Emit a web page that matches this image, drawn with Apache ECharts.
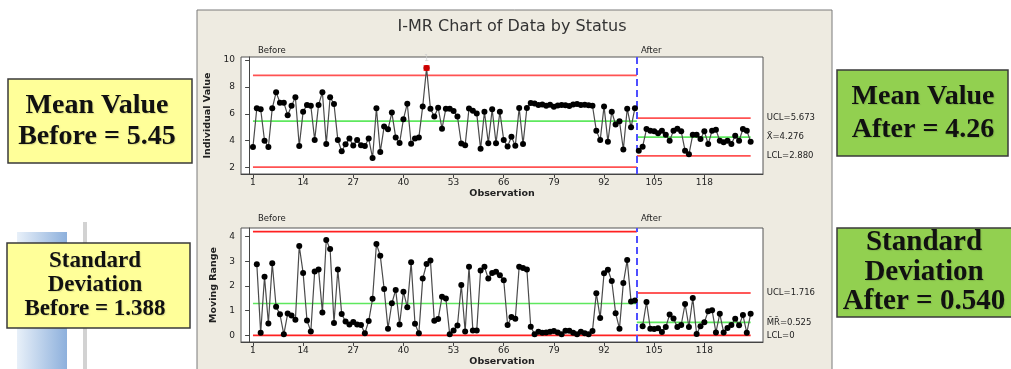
<!DOCTYPE html>
<html><head><meta charset="utf-8">
<script src="https://cdn.jsdelivr.net/npm/echarts@6/dist/echarts.min.js"></script>
<style>html,body{margin:0;padding:0;background:#fff}#c{width:1011px;height:369px}</style>
</head><body><div id="c"></div>
<script>
// ---------- DATA ----------
const iBefore = [3.54,6.41,6.34,4.0,3.54,6.41,7.6,6.83,6.83,5.9,
  6.6,7.23,3.61,6.16,6.66,6.6,4.06,6.66,7.6,3.76,
  7.23,6.73,4.06,3.22,3.74,4.16,3.64,4.06,3.66,3.61,
  4.16,2.72,6.41,3.17,5.05,4.85,6.09,4.25,3.83,5.6,
  6.75,3.78,4.17,4.25,6.55,9.4,6.38,5.8,6.45,4.9,
  6.38,6.38,6.2,5.8,3.8,3.67,6.4,6.23,6.03,3.4,
  6.15,3.82,6.33,3.82,6.15,4.05,3.57,4.3,3.62,6.43,
  3.75,6.43,6.8,6.76,6.66,6.7,6.6,6.68,6.52,6.62,
  6.66,6.64,6.58,6.7,6.72,6.66,6.68,6.64,6.6,4.75,
  4.05,6.55,3.93,6.15,5.2,5.45,3.35,6.38,5.0,6.42];
const iAfter = [3.26,3.56,4.87,4.75,4.7,4.55,4.75,4.45,4.0,4.75,
  4.9,4.7,3.26,2.99,4.45,4.45,4.13,4.7,3.76,4.75,
  4.82,4.0,3.88,4.0,3.76,4.38,4.0,4.87,4.75,3.93];
const mrBefore = [2.88,0.1,2.37,0.48,2.92,1.16,0.85,0.04,0.88,0.8,
  0.63,3.62,2.53,0.6,0.16,2.59,2.67,0.93,3.86,3.5,
  0.5,2.67,0.86,0.56,0.44,0.54,0.44,0.42,0.08,0.58,
  1.48,3.7,3.23,1.88,0.27,1.3,1.84,0.44,1.77,1.14,
  2.96,0.47,0.08,2.3,2.89,3.03,0.59,0.66,1.56,1.49,
  0.04,0.2,0.4,2.04,0.16,2.78,0.2,0.2,2.63,2.78,
  2.3,2.53,2.58,2.44,2.23,0.42,0.74,0.67,2.78,2.73,
  2.67,0.35,0.04,0.15,0.1,0.12,0.15,0.18,0.12,0.04,
  0.19,0.19,0.1,0.04,0.15,0.08,0.04,0.18,1.71,0.7,
  2.52,2.66,2.2,0.9,0.27,2.12,3.05,1.37,1.41];
const mrAfter = [0.37,1.35,0.27,0.26,0.29,0.14,0.34,0.84,0.68,0.34,
  0.42,1.27,0.34,1.51,0.05,0.37,0.53,0.98,1.02,0.12,
  0.87,0.12,0.3,0.42,0.67,0.41,0.82,0.1,0.87];
const firstObs = [1, 101];          // first observation of each stage
const firstMrObs = [2, 102];        // first moving range of each stage
const stageBounds = [1, 100.5, 130];
const flaggedObs = [46];
const iLimitsBefore = [8.86, 5.45, 2.04];   // UCL, CL, LCL
const iLimitsAfter = [5.673, 4.276, 2.880];
const mrLimitsBefore = [4.20, 1.29, 0];
const mrLimitsAfter = [1.716, 0.525, 0];
const xTicks = [1,14,27,40,53,66,79,92,105,118];
const iTicks = [2,4,6,8,10];
const mrTicks = [0,1,2,3,4];
const stageNames = ['Before', 'After'];
const iLimitNames = ['UCL', 'X\u0304', 'LCL'];
const mrLimitNames = ['UCL', 'M\u0304R\u0304', 'LCL'];
const iLimitText = ['5.673', '4.276', '2.880'];
const mrLimitText = ['1.716', '0.525', '0'];

// ---------- CHART ----------
const chart = echarts.init(document.getElementById('c'), null, {renderer: 'canvas'});
const F = '"DejaVu Sans", Tahoma, sans-serif';
const SERIF = '"Liberation Serif", "Times New Roman", serif';
const RED = '#ff5252', GREEN = '#5ee85e';
const pts = (arr, start) => arr.map((v, i) => [start + i, v]);

function limitLines(grid, before, after, names, texts, redColor) {
  const out = [];
  before.forEach((v, k) => {
    out.push({type: 'line', xAxisIndex: grid, yAxisIndex: grid, symbol: 'none', silent: true, z: 3,
      lineStyle: {color: k === 1 ? GREEN : redColor, width: 1.7},
      data: [[stageBounds[0], v], [stageBounds[1], v]]});
  });
  after.forEach((v, k) => {
    out.push({type: 'line', xAxisIndex: grid, yAxisIndex: grid, symbol: 'none', silent: true, z: 3,
      lineStyle: {color: k === 1 ? GREEN : redColor, width: 1.7},
      data: [[stageBounds[1], v], [stageBounds[2], v]],
      endLabel: {show: true, distance: 16, formatter: names[k] + '=' + texts[k],
        fontFamily: F, fontSize: 8.5, color: '#222'}});
  });
  return out;
}

function xAxis(grid) {
  return {type: 'value', gridIndex: grid, min: -2.1, max: 133.2,
    name: 'Observation', nameLocation: 'middle', nameGap: 15,
    nameTextStyle: {fontFamily: F, fontSize: 9.5, fontWeight: 'bold', color: '#222'},
    axisLine: {show: true, onZero: false, lineStyle: {color: '#444'}},
    axisTick: {show: true, customValues: xTicks, length: 4, lineStyle: {color: '#444'}},
    axisLabel: {customValues: xTicks, fontFamily: F, fontSize: 9, color: '#222', margin: 4},
    splitLine: {show: false}};
}
function yAxis(grid, min, max, ticks, name, gap) {
  return {type: 'value', gridIndex: grid, min: min, max: max,
    name: name, nameLocation: 'middle', nameGap: gap, nameRotate: 90,
    nameTextStyle: {fontFamily: F, fontSize: 9.5, fontWeight: 'bold', color: '#222'},
    axisLine: {show: true, lineStyle: {color: '#444'}},
    axisTick: {show: true, customValues: ticks, length: 4, lineStyle: {color: '#444'}},
    axisLabel: {customValues: ticks, fontFamily: F, fontSize: 9, color: '#222', margin: 6},
    splitLine: {show: false}};
}

const dataLine = (grid, arr, start) => ({type: 'line', xAxisIndex: grid, yAxisIndex: grid,
  data: pts(arr, start), symbol: 'circle', symbolSize: 6, z: 5,
  itemStyle: {color: '#000'}, lineStyle: {color: '#4a4a4a', width: 1.2}});

const divider = (grid) => ({type: 'line', xAxisIndex: grid, yAxisIndex: grid, data: [], silent: true,
  markLine: {symbol: 'none', silent: true, label: {show: false},
    lineStyle: {color: '#4f4fff', type: [7, 4], width: 2},
    data: [{xAxis: stageBounds[1]}]}});

const series = [
  ...limitLines(0, iLimitsBefore, iLimitsAfter, iLimitNames, iLimitText, RED),
  ...limitLines(1, mrLimitsBefore, mrLimitsAfter, mrLimitNames, mrLimitText, '#ff2020'),
  divider(0), divider(1),
  dataLine(0, iBefore, firstObs[0]), dataLine(0, iAfter, firstObs[1]),
  dataLine(1, mrBefore, firstMrObs[0]), dataLine(1, mrAfter, firstMrObs[1]),
  {type: 'scatter', xAxisIndex: 0, yAxisIndex: 0, z: 6, symbol: 'rect', symbolSize: 6,
    itemStyle: {color: '#ff0000'},
    label: {show: true, position: 'top', distance: 2, formatter: '1', color: '#d0d0d0', fontSize: 8, fontFamily: F},
    data: flaggedObs.map(o => [o, iBefore[o - firstObs[0]]])}
];

const stageLabel = (x, y, t) => ({type: 'text', x: x, y: y, z: 50,
  style: {text: t, font: '8.5px ' + F, fill: '#222', textVerticalAlign: 'middle'}});

function box(x, y, w, h, fill, text, size, lh, cx) {
  return [
    {type: 'rect', z: 100, shape: {x: x, y: y, width: w, height: h},
      style: {fill: fill, stroke: '#3a3a3a', lineWidth: 1.5}},
    {type: 'text', z: 101, x: cx, y: y + h / 2,
      style: {text: text, font: 'bold ' + size + 'px ' + SERIF, fill: '#111',
        textAlign: 'center', textVerticalAlign: 'middle', lineHeight: lh,
        textShadowColor: 'rgba(0,0,0,0.12)', textShadowOffsetX: 1, textShadowOffsetY: 1, textShadowBlur: 1}}
  ];
}

const graphic = [
  {type: 'rect', z: -10, shape: {x: 17, y: 232, width: 50, height: 137},
    style: {fill: new echarts.graphic.LinearGradient(0, 0, 1, 0, [
      {offset: 0, color: '#e8f0f9'}, {offset: 1, color: '#8db0dc'}])}},
  {type: 'rect', z: -10, shape: {x: 83, y: 222, width: 4, height: 147}, style: {fill: '#d2d2d2'}},
  {type: 'rect', z: -5, shape: {x: 197, y: 10, width: 635, height: 370},
    style: {fill: '#eeebe1', stroke: '#7a7a7a', lineWidth: 1}},
  {type: 'text', z: 50, x: 512, y: 27,
    style: {text: 'I-MR Chart of Data by Status', font: '16px ' + F, fill: '#333',
      textAlign: 'center', textVerticalAlign: 'middle'}},
  stageLabel(258, 51, stageNames[0]), stageLabel(641, 51, stageNames[1]),
  stageLabel(258, 219, stageNames[0]), stageLabel(641, 219, stageNames[1]),
  ...box(8, 79, 184, 84, '#ffff99', 'Mean Value\nBefore = ' + iLimitsBefore[1].toFixed(2), 28, 31, 97),
  ...box(7, 243, 183, 85, '#ffff99', 'Standard\nDeviation\nBefore = 1.388', 23, 24, 95),
  ...box(837, 70, 171, 86, '#92d050', 'Mean Value\nAfter = 4.26', 28, 33, 923),
  ...box(837, 228, 176, 89, '#92d050', 'Standard\nDeviation\nAfter = 0.540', 29, 29.5, 924)
];

chart.setOption({
  animation: false,
  backgroundColor: '#ffffff',
  grid: [
    {left: 241, top: 57, width: 522, height: 117, show: true, backgroundColor: '#ffffff',
      borderColor: '#555', borderWidth: 1, containLabel: false, outerBoundsMode: 'none'},
    {left: 241, top: 228, width: 522, height: 114, show: true, backgroundColor: '#ffffff',
      borderColor: '#555', borderWidth: 1, containLabel: false, outerBoundsMode: 'none'}
  ],
  xAxis: [xAxis(0), xAxis(1)],
  yAxis: [yAxis(0, 1.53, 10.22, iTicks, 'Individual Value', 19),
          yAxis(1, -0.27, 4.35, mrTicks, 'Moving Range', 18)],
  series: series,
  graphic: graphic
});
</script></body></html>
